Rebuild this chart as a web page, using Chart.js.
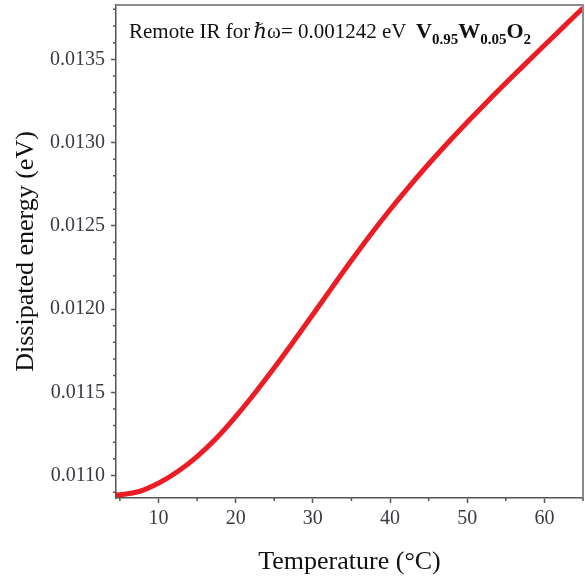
<!DOCTYPE html>
<html>
<head>
<meta charset="utf-8">
<script src="https://cdn.jsdelivr.net/npm/chart.js@4/dist/chart.umd.min.js"></script>
<style>
html,body{margin:0;padding:0;background:#fff;}
#wrap{width:585px;height:582px;}
</style>
</head>
<body>
<div id="wrap"><canvas id="c" width="585" height="582"></canvas></div>
<script>
// ---- data ----
const temperatures = [4.5, 5, 7.5, 10, 12.5, 15, 17.5, 20, 22.5, 25, 27.5, 30, 32.5, 35, 37.5, 40, 42.5, 45, 47.5, 50, 52.5, 55, 57.5, 60, 62.5, 65];
const dissipated = [0.010886, 0.010884, 0.010904, 0.010954, 0.011024, 0.011114, 0.011224, 0.011354, 0.011496, 0.011647, 0.011805, 0.011967, 0.012130, 0.012291, 0.012447, 0.012596, 0.012737, 0.012871, 0.012999, 0.013122, 0.013241, 0.013357, 0.013471, 0.013584, 0.013696, 0.013808];
const xMajorTicks = [10, 20, 30, 40, 50, 60];
const xMinorTicks = [5, 15, 25, 35, 45, 55, 65];
const yMajorTicks = [0.0110, 0.0115, 0.0120, 0.0125, 0.0130, 0.0135];
const yMinorTicks = [0.0109, 0.0111, 0.0112, 0.0113, 0.0114, 0.0116, 0.0117, 0.0118, 0.0119, 0.0121, 0.0122, 0.0123, 0.0124, 0.0126, 0.0127, 0.0128, 0.0129, 0.0131, 0.0132, 0.0133, 0.0134, 0.0136, 0.0137, 0.0138];
const xTitle = 'Temperature (°C)';
const yTitle = 'Dissipated energy (eV)';
const notePrefix = 'Remote IR for ';
const noteHbar = 'ℏ';
const noteSuffix = 'ω= 0.001242 eV';
const formulaParts = [['V', false], ['0.95', true], ['W', false], ['0.05', true], ['O', false], ['2', true]];

const SERIF = '"Liberation Serif", "Times New Roman", "DejaVu Serif", serif';

const points = temperatures.map((t, i) => ({x: t, y: dissipated[i]}));

const decorPlugin = {
  id: 'decor',
  afterDraw(chart) {
    const ctx = chart.ctx;
    const a = chart.chartArea;
    const xs = chart.scales.x, ys = chart.scales.y;
    ctx.save();
    // frame top/right
    ctx.strokeStyle = '#8c8c8c';
    ctx.lineWidth = 2;
    ctx.beginPath();
    ctx.moveTo(a.left, a.top);
    ctx.lineTo(a.right, a.top);
    ctx.lineTo(a.right, a.bottom);
    ctx.stroke();
    // minor ticks
    ctx.strokeStyle = '#555';
    ctx.lineWidth = 1.5;
    ctx.beginPath();
    yMinorTicks.forEach(v => {
      const py = ys.getPixelForValue(v);
      if (py < a.top || py > a.bottom) return;
      ctx.moveTo(a.left - 3, py);
      ctx.lineTo(a.left, py);
    });
    xMinorTicks.forEach(v => {
      const px = xs.getPixelForValue(v);
      if (px < a.left || px > a.right + 1) return;
      ctx.moveTo(px, a.bottom);
      ctx.lineTo(px, a.bottom + 3);
    });
    ctx.stroke();
    // annotation text
    ctx.fillStyle = '#111';
    ctx.textBaseline = 'alphabetic';
    ctx.textAlign = 'left';
    let x = 129, y = 38;
    ctx.font = '21px ' + SERIF;
    ctx.fillText(notePrefix, x, y);
    x += ctx.measureText(notePrefix).width - 2;
    ctx.font = 'italic 21px ' + SERIF;
    ctx.fillText(noteHbar, x, y);
    x += ctx.measureText(noteHbar).width;
    ctx.font = '21px ' + SERIF;
    ctx.fillText(noteSuffix, x, y);
    // formula
    x = 416;
    formulaParts.forEach(([txt, sub]) => {
      if (sub) {
        ctx.font = 'bold 15px ' + SERIF;
        ctx.fillText(txt, x, y + 6);
      } else {
        ctx.font = 'bold 22px ' + SERIF;
        ctx.fillText(txt, x, y);
      }
      x += ctx.measureText(txt).width;
    });
    ctx.restore();
  }
};

new Chart(document.getElementById('c'), {
  type: 'line',
  data: {
    datasets: [{
      data: points,
      borderColor: '#ec1c24',
      borderWidth: 5,
      pointRadius: 0,
      fill: false,
      tension: 0.4
    }]
  },
  options: {
    responsive: false,
    animation: false,
    devicePixelRatio: 1,
    layout: {padding: {top: 5, right: 2, left: 0, bottom: 0}},
    plugins: {legend: {display: false}, tooltip: {enabled: false}},
    scales: {
      x: {
        type: 'linear',
        min: 4.5,
        max: 65,
        afterBuildTicks: (s) => { s.ticks = xMajorTicks.map(v => ({value: v})); },
        afterFit: (s) => { s.height = 84; s.paddingLeft = 0; s.paddingRight = 0; },
        grid: {drawOnChartArea: false, drawTicks: true, tickLength: 5, tickColor: '#555', tickWidth: 1.5},
        border: {display: true, color: '#555', width: 1.5},
        ticks: {font: {family: SERIF, size: 20}, color: '#3a3a44', padding: 4, maxRotation: 0},
        title: {display: true, text: xTitle, font: {family: SERIF, size: 26}, color: '#111', padding: {top: 0, bottom: 4}}
      },
      y: {
        type: 'linear',
        min: 0.010865,
        max: 0.013826,
        afterBuildTicks: (s) => { s.ticks = yMajorTicks.map(v => ({value: v})); },
        afterFit: (s) => { s.width = 116; s.paddingTop = 0; s.paddingBottom = 0; },
        grid: {drawOnChartArea: false, drawTicks: true, tickLength: 5, tickColor: '#555', tickWidth: 1.5},
        border: {display: true, color: '#555', width: 1.5},
        ticks: {font: {family: SERIF, size: 20}, color: '#3a3a44', padding: 6,
          callback: (v) => Number(v).toFixed(4)},
        title: {display: true, text: yTitle, font: {family: SERIF, size: 26}, color: '#111', padding: {top: 11, bottom: 0}}
      }
    }
  },
  plugins: [decorPlugin]
});
</script>
</body>
</html>
